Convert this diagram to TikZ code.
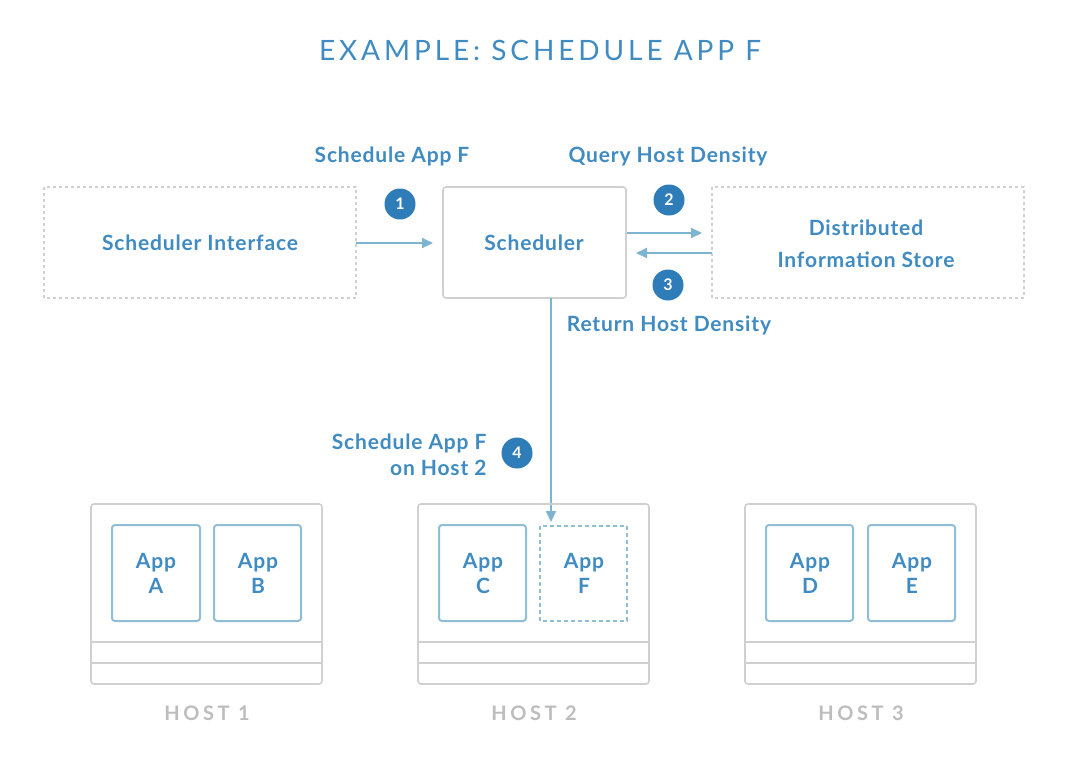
\documentclass[tikz,border=0pt]{standalone}
\usepackage{fontspec}
\setmainfont{Lato}
\newfontfamily\titlefont[LetterSpace=14]{Lato}
\newfontfamily\hostfont[LetterSpace=18]{Lato Bold}
\newfontfamily\lblfont[LetterSpace=4]{Lato Bold}
\usetikzlibrary{arrows.meta}
\definecolor{txtblue}{HTML}{3F8BC2}
\definecolor{dotblue}{HTML}{2F7DB8}
\definecolor{arrblue}{HTML}{7DB4CF}
\definecolor{appblue}{HTML}{8FBFD6}
\definecolor{boxgray}{HTML}{D0D0D0}
\definecolor{hostgray}{HTML}{BDBDBD}
\begin{document}
\begin{tikzpicture}[x=1pt,y=-1pt,
  lbl/.style={font=\lblfont\fontsize{21}{25}\selectfont, text=txtblue, align=center},
  dashbox/.style={draw=boxgray, line width=1.3pt, dash pattern=on 3pt off 3pt},
  solidbox/.style={draw=boxgray, line width=1.6pt, rounded corners=3pt},
  appbox/.style={draw=appblue, line width=2pt, rounded corners=3pt},
  appdash/.style={draw=appblue, line width=2pt, dash pattern=on 4pt off 3pt},
  num/.style={circle, fill=dotblue, minimum size=31pt, inner sep=0pt, text=white, font=\lblfont\fontsize{16}{16}\selectfont},
  arr/.style={draw=arrblue, line width=2pt, -{Triangle[length=11pt,width=10pt]}},
  hostlbl/.style={font=\hostfont\fontsize{20}{23}\selectfont, text=hostgray}
]
\useasboundingbox (0,0) rectangle (1068,758);
\fill[white] (0,0) rectangle (1068,758);

\node[font=\titlefont\fontsize{28}{32}\selectfont, text=txtblue] (title) at (540,50) {EXAMPLE: SCHEDULE APP F};

% top boxes
\draw[dashbox] (44,187) rectangle (356,298);
\node[lbl] (si) at (200,243) {Scheduler Interface};
\coordinate (siE) at (356,243);

\draw[solidbox] (443,187) rectangle (626,298);
\node[lbl] (sch) at (534,243) {Scheduler};
\coordinate (schW) at (443,243);

\draw[dashbox] (712,187) rectangle (1024,298);
\node[lbl, font=\lblfont\fontsize{21}{32}\selectfont] (dis) at (866,244) {Distributed\\Information Store};

\coordinate (a2s) at (627,233);
\coordinate (a2e) at (712,233);
\coordinate (a3s) at (712,253);
\coordinate (a3e) at (626,253);

\draw[arr, shorten >=10pt] (siE) -- (schW);
\draw[arr, shorten >=10pt] (a2s) -- (a2e);
\draw[arr, shorten >=10pt] (a3s) -- (a3e);

\node[num] (n1) at (400,204) {1};
\node[num] (n2) at (669,200) {2};
\node[num] (n3) at (668,285) {3};
\node[num] (n4) at (517,453) {4};

\node[lbl] (l1) at (392,156) {Schedule App F};
\node[lbl] (l2) at (668,156) {Query Host Density};
\node[lbl] (l3) at (669,325) {Return Host Density};
\node[lbl, align=right, anchor=east, font=\lblfont\fontsize{21}{26}\selectfont] (l4) at (490,455) {Schedule App F\\on Host 2};

% vertical arrow
\coordinate (vs) at (551,298);
\coordinate (ve) at (551,522);
\draw[arr] (vs) -- (ve);

% hosts
\foreach \hx/\n in {91/1, 418/2, 745/3}{
  \draw[solidbox] (\hx,504) rectangle ++(231,180);
  \draw[draw=boxgray, line width=1.6pt] (\hx,642) -- ++(231,0);
  \draw[draw=boxgray, line width=1.6pt] (\hx,663) -- ++(231,0);
  \node[hostlbl] (h\n) at (\hx+116,713) {HOST \n};
}
\draw[appbox] (112,525) rectangle (200,621);
\node[lbl] (aA) at (156,573) {App\\A};
\draw[appbox] (214,525) rectangle (301,621);
\node[lbl] (aB) at (258,573) {App\\B};
\draw[appbox] (439,525) rectangle (526,621);
\node[lbl] (aC) at (483,573) {App\\C};
\draw[appdash] (540,526) rectangle (627,621);
\node[lbl] (aF) at (584,573) {App\\F};
\draw[appbox] (766,525) rectangle (853,621);
\node[lbl] (aD) at (810,573) {App\\D};
\draw[appbox] (868,525) rectangle (955,621);
\node[lbl] (aE) at (912,573) {App\\E};
\end{tikzpicture}
\end{document}
